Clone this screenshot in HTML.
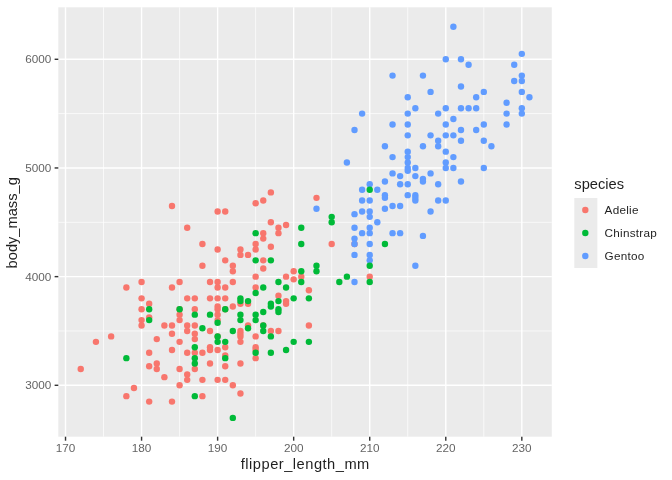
<!DOCTYPE html>
<html><head><meta charset="utf-8"><title>penguins</title>
<style>html,body{margin:0;padding:0;background:#fff}svg{display:block}text{font-family:"Liberation Sans",sans-serif;fill-opacity:.88}</style></head><body>
<svg width="672" height="480" viewBox="0 0 672 480">
<rect width="672" height="480" fill="#fff"/>
<rect x="58.3" y="7.3" width="493.50" height="429.40" fill="#EBEBEB"/>
<g stroke="#fff" stroke-width="0.71">
<line x1="103.55" x2="103.55" y1="7.3" y2="436.7"/>
<line x1="179.59" x2="179.59" y1="7.3" y2="436.7"/>
<line x1="255.64" x2="255.64" y1="7.3" y2="436.7"/>
<line x1="331.69" x2="331.69" y1="7.3" y2="436.7"/>
<line x1="407.75" x2="407.75" y1="7.3" y2="436.7"/>
<line x1="483.80" x2="483.80" y1="7.3" y2="436.7"/>
<line y1="330.97" y2="330.97" x1="58.3" x2="551.8"/>
<line y1="222.30" y2="222.30" x1="58.3" x2="551.8"/>
<line y1="113.62" y2="113.62" x1="58.3" x2="551.8"/>
</g>
<g stroke="#fff" stroke-width="1.42">
<line x1="65.52" x2="65.52" y1="7.3" y2="436.7"/>
<line x1="141.57" x2="141.57" y1="7.3" y2="436.7"/>
<line x1="217.62" x2="217.62" y1="7.3" y2="436.7"/>
<line x1="293.67" x2="293.67" y1="7.3" y2="436.7"/>
<line x1="369.72" x2="369.72" y1="7.3" y2="436.7"/>
<line x1="445.77" x2="445.77" y1="7.3" y2="436.7"/>
<line x1="521.82" x2="521.82" y1="7.3" y2="436.7"/>
<line y1="385.30" y2="385.30" x1="58.3" x2="551.8"/>
<line y1="276.63" y2="276.63" x1="58.3" x2="551.8"/>
<line y1="167.96" y2="167.96" x1="58.3" x2="551.8"/>
<line y1="59.29" y2="59.29" x1="58.3" x2="551.8"/>
</g>
<g fill="#F8766D">
<circle cx="80.73" cy="369.00" r="3.2"/>
<circle cx="149.18" cy="366.28" r="3.2"/>
<circle cx="156.78" cy="363.57" r="3.2"/>
<circle cx="156.78" cy="369.00" r="3.2"/>
<circle cx="164.38" cy="377.15" r="3.2"/>
<circle cx="133.97" cy="388.02" r="3.2"/>
<circle cx="126.36" cy="396.17" r="3.2"/>
<circle cx="149.18" cy="401.60" r="3.2"/>
<circle cx="171.99" cy="401.60" r="3.2"/>
<circle cx="179.59" cy="369.00" r="3.2"/>
<circle cx="179.59" cy="385.30" r="3.2"/>
<circle cx="187.20" cy="374.43" r="3.2"/>
<circle cx="187.20" cy="379.87" r="3.2"/>
<circle cx="194.81" cy="369.00" r="3.2"/>
<circle cx="202.41" cy="379.87" r="3.2"/>
<circle cx="202.41" cy="396.17" r="3.2"/>
<circle cx="210.01" cy="363.57" r="3.2"/>
<circle cx="217.62" cy="379.87" r="3.2"/>
<circle cx="225.23" cy="366.28" r="3.2"/>
<circle cx="225.23" cy="379.87" r="3.2"/>
<circle cx="232.83" cy="385.30" r="3.2"/>
<circle cx="240.44" cy="363.57" r="3.2"/>
<circle cx="240.44" cy="393.45" r="3.2"/>
<circle cx="255.64" cy="358.13" r="3.2"/>
<circle cx="141.57" cy="282.06" r="3.2"/>
<circle cx="126.36" cy="287.50" r="3.2"/>
<circle cx="141.57" cy="298.36" r="3.2"/>
<circle cx="149.18" cy="303.80" r="3.2"/>
<circle cx="141.57" cy="309.23" r="3.2"/>
<circle cx="149.18" cy="317.38" r="3.2"/>
<circle cx="141.57" cy="320.10" r="3.2"/>
<circle cx="141.57" cy="325.53" r="3.2"/>
<circle cx="164.38" cy="325.53" r="3.2"/>
<circle cx="111.15" cy="336.40" r="3.2"/>
<circle cx="95.94" cy="341.83" r="3.2"/>
<circle cx="156.78" cy="339.12" r="3.2"/>
<circle cx="149.18" cy="352.70" r="3.2"/>
<circle cx="171.99" cy="287.50" r="3.2"/>
<circle cx="171.99" cy="325.53" r="3.2"/>
<circle cx="171.99" cy="333.68" r="3.2"/>
<circle cx="179.59" cy="282.06" r="3.2"/>
<circle cx="179.59" cy="314.66" r="3.2"/>
<circle cx="179.59" cy="320.10" r="3.2"/>
<circle cx="187.20" cy="298.36" r="3.2"/>
<circle cx="187.20" cy="325.53" r="3.2"/>
<circle cx="187.20" cy="330.97" r="3.2"/>
<circle cx="194.81" cy="298.36" r="3.2"/>
<circle cx="194.81" cy="309.23" r="3.2"/>
<circle cx="194.81" cy="325.53" r="3.2"/>
<circle cx="194.81" cy="333.68" r="3.2"/>
<circle cx="210.01" cy="282.06" r="3.2"/>
<circle cx="210.01" cy="298.36" r="3.2"/>
<circle cx="210.01" cy="330.97" r="3.2"/>
<circle cx="217.62" cy="282.06" r="3.2"/>
<circle cx="217.62" cy="287.50" r="3.2"/>
<circle cx="217.62" cy="298.36" r="3.2"/>
<circle cx="217.62" cy="306.51" r="3.2"/>
<circle cx="217.62" cy="309.23" r="3.2"/>
<circle cx="217.62" cy="314.66" r="3.2"/>
<circle cx="217.62" cy="320.10" r="3.2"/>
<circle cx="225.23" cy="287.50" r="3.2"/>
<circle cx="225.23" cy="298.36" r="3.2"/>
<circle cx="232.83" cy="282.06" r="3.2"/>
<circle cx="232.83" cy="306.51" r="3.2"/>
<circle cx="240.44" cy="303.80" r="3.2"/>
<circle cx="240.44" cy="330.97" r="3.2"/>
<circle cx="248.04" cy="303.80" r="3.2"/>
<circle cx="248.04" cy="325.53" r="3.2"/>
<circle cx="171.99" cy="349.98" r="3.2"/>
<circle cx="179.59" cy="341.83" r="3.2"/>
<circle cx="187.20" cy="352.70" r="3.2"/>
<circle cx="194.81" cy="339.12" r="3.2"/>
<circle cx="194.81" cy="352.70" r="3.2"/>
<circle cx="202.41" cy="352.70" r="3.2"/>
<circle cx="210.01" cy="347.27" r="3.2"/>
<circle cx="210.01" cy="349.98" r="3.2"/>
<circle cx="217.62" cy="349.98" r="3.2"/>
<circle cx="225.23" cy="347.27" r="3.2"/>
<circle cx="225.23" cy="355.42" r="3.2"/>
<circle cx="240.44" cy="333.68" r="3.2"/>
<circle cx="240.44" cy="336.40" r="3.2"/>
<circle cx="240.44" cy="341.83" r="3.2"/>
<circle cx="255.64" cy="336.40" r="3.2"/>
<circle cx="255.64" cy="347.27" r="3.2"/>
<circle cx="255.64" cy="349.98" r="3.2"/>
<circle cx="263.25" cy="325.53" r="3.2"/>
<circle cx="270.86" cy="330.97" r="3.2"/>
<circle cx="278.46" cy="330.97" r="3.2"/>
<circle cx="308.88" cy="325.53" r="3.2"/>
<circle cx="255.64" cy="287.50" r="3.2"/>
<circle cx="278.46" cy="295.65" r="3.2"/>
<circle cx="286.06" cy="301.08" r="3.2"/>
<circle cx="286.06" cy="303.80" r="3.2"/>
<circle cx="308.88" cy="290.21" r="3.2"/>
<circle cx="171.99" cy="205.99" r="3.2"/>
<circle cx="187.20" cy="227.73" r="3.2"/>
<circle cx="202.41" cy="244.03" r="3.2"/>
<circle cx="202.41" cy="265.76" r="3.2"/>
<circle cx="217.62" cy="211.43" r="3.2"/>
<circle cx="217.62" cy="249.46" r="3.2"/>
<circle cx="225.23" cy="211.43" r="3.2"/>
<circle cx="225.23" cy="260.33" r="3.2"/>
<circle cx="232.83" cy="265.76" r="3.2"/>
<circle cx="232.83" cy="271.20" r="3.2"/>
<circle cx="240.44" cy="249.46" r="3.2"/>
<circle cx="240.44" cy="254.90" r="3.2"/>
<circle cx="248.04" cy="254.90" r="3.2"/>
<circle cx="255.64" cy="244.03" r="3.2"/>
<circle cx="255.64" cy="249.46" r="3.2"/>
<circle cx="255.64" cy="276.63" r="3.2"/>
<circle cx="263.25" cy="233.16" r="3.2"/>
<circle cx="263.25" cy="238.60" r="3.2"/>
<circle cx="263.25" cy="260.33" r="3.2"/>
<circle cx="263.25" cy="268.48" r="3.2"/>
<circle cx="270.86" cy="222.30" r="3.2"/>
<circle cx="270.86" cy="246.75" r="3.2"/>
<circle cx="278.46" cy="227.73" r="3.2"/>
<circle cx="278.46" cy="233.16" r="3.2"/>
<circle cx="286.06" cy="225.01" r="3.2"/>
<circle cx="286.06" cy="276.63" r="3.2"/>
<circle cx="293.67" cy="271.20" r="3.2"/>
<circle cx="293.67" cy="279.35" r="3.2"/>
<circle cx="301.28" cy="276.63" r="3.2"/>
<circle cx="331.69" cy="244.03" r="3.2"/>
<circle cx="354.51" cy="244.03" r="3.2"/>
<circle cx="369.72" cy="276.63" r="3.2"/>
<circle cx="255.64" cy="203.28" r="3.2"/>
<circle cx="263.25" cy="200.56" r="3.2"/>
<circle cx="270.86" cy="192.41" r="3.2"/>
<circle cx="316.49" cy="197.84" r="3.2"/>
<circle cx="225.23" cy="309.23" r="3.2"/>
<circle cx="179.59" cy="309.23" r="3.2"/>
<circle cx="217.62" cy="336.40" r="3.2"/>
</g>
<g fill="#619CFF">
<circle cx="354.51" cy="227.73" r="3.2"/>
<circle cx="354.51" cy="238.60" r="3.2"/>
<circle cx="354.51" cy="244.03" r="3.2"/>
<circle cx="354.51" cy="254.90" r="3.2"/>
<circle cx="354.51" cy="282.06" r="3.2"/>
<circle cx="362.12" cy="233.16" r="3.2"/>
<circle cx="369.72" cy="227.73" r="3.2"/>
<circle cx="369.72" cy="233.16" r="3.2"/>
<circle cx="369.72" cy="244.03" r="3.2"/>
<circle cx="369.72" cy="254.90" r="3.2"/>
<circle cx="369.72" cy="260.33" r="3.2"/>
<circle cx="392.54" cy="233.16" r="3.2"/>
<circle cx="400.14" cy="233.16" r="3.2"/>
<circle cx="415.35" cy="265.76" r="3.2"/>
<circle cx="422.95" cy="235.88" r="3.2"/>
<circle cx="430.56" cy="211.43" r="3.2"/>
<circle cx="316.49" cy="208.71" r="3.2"/>
<circle cx="346.90" cy="162.53" r="3.2"/>
<circle cx="354.51" cy="214.14" r="3.2"/>
<circle cx="362.12" cy="189.69" r="3.2"/>
<circle cx="362.12" cy="200.56" r="3.2"/>
<circle cx="362.12" cy="211.43" r="3.2"/>
<circle cx="369.72" cy="184.26" r="3.2"/>
<circle cx="369.72" cy="200.56" r="3.2"/>
<circle cx="369.72" cy="211.43" r="3.2"/>
<circle cx="369.72" cy="216.86" r="3.2"/>
<circle cx="377.32" cy="189.69" r="3.2"/>
<circle cx="377.32" cy="222.30" r="3.2"/>
<circle cx="384.93" cy="181.54" r="3.2"/>
<circle cx="384.93" cy="195.13" r="3.2"/>
<circle cx="384.93" cy="197.84" r="3.2"/>
<circle cx="384.93" cy="208.71" r="3.2"/>
<circle cx="392.54" cy="173.39" r="3.2"/>
<circle cx="392.54" cy="205.99" r="3.2"/>
<circle cx="400.14" cy="176.11" r="3.2"/>
<circle cx="400.14" cy="184.26" r="3.2"/>
<circle cx="400.14" cy="205.99" r="3.2"/>
<circle cx="407.75" cy="184.26" r="3.2"/>
<circle cx="407.75" cy="195.13" r="3.2"/>
<circle cx="415.35" cy="176.11" r="3.2"/>
<circle cx="415.35" cy="195.13" r="3.2"/>
<circle cx="415.35" cy="200.56" r="3.2"/>
<circle cx="422.95" cy="178.83" r="3.2"/>
<circle cx="422.95" cy="181.54" r="3.2"/>
<circle cx="430.56" cy="173.39" r="3.2"/>
<circle cx="438.17" cy="184.26" r="3.2"/>
<circle cx="438.17" cy="200.56" r="3.2"/>
<circle cx="445.77" cy="200.56" r="3.2"/>
<circle cx="460.98" cy="181.54" r="3.2"/>
<circle cx="483.80" cy="167.96" r="3.2"/>
<circle cx="354.51" cy="129.93" r="3.2"/>
<circle cx="362.12" cy="113.62" r="3.2"/>
<circle cx="384.93" cy="146.23" r="3.2"/>
<circle cx="392.54" cy="124.49" r="3.2"/>
<circle cx="392.54" cy="157.09" r="3.2"/>
<circle cx="407.75" cy="113.62" r="3.2"/>
<circle cx="407.75" cy="124.49" r="3.2"/>
<circle cx="407.75" cy="135.36" r="3.2"/>
<circle cx="407.75" cy="151.66" r="3.2"/>
<circle cx="407.75" cy="157.09" r="3.2"/>
<circle cx="407.75" cy="162.53" r="3.2"/>
<circle cx="407.75" cy="167.96" r="3.2"/>
<circle cx="407.75" cy="170.68" r="3.2"/>
<circle cx="415.35" cy="167.96" r="3.2"/>
<circle cx="422.95" cy="146.23" r="3.2"/>
<circle cx="430.56" cy="135.36" r="3.2"/>
<circle cx="438.17" cy="113.62" r="3.2"/>
<circle cx="438.17" cy="140.79" r="3.2"/>
<circle cx="438.17" cy="146.23" r="3.2"/>
<circle cx="445.77" cy="124.49" r="3.2"/>
<circle cx="445.77" cy="135.36" r="3.2"/>
<circle cx="445.77" cy="151.66" r="3.2"/>
<circle cx="445.77" cy="162.53" r="3.2"/>
<circle cx="445.77" cy="167.96" r="3.2"/>
<circle cx="453.38" cy="119.06" r="3.2"/>
<circle cx="453.38" cy="135.36" r="3.2"/>
<circle cx="453.38" cy="157.09" r="3.2"/>
<circle cx="453.38" cy="167.96" r="3.2"/>
<circle cx="460.98" cy="129.93" r="3.2"/>
<circle cx="460.98" cy="140.79" r="3.2"/>
<circle cx="476.19" cy="129.93" r="3.2"/>
<circle cx="483.80" cy="124.49" r="3.2"/>
<circle cx="483.80" cy="140.79" r="3.2"/>
<circle cx="491.40" cy="146.23" r="3.2"/>
<circle cx="506.61" cy="113.62" r="3.2"/>
<circle cx="506.61" cy="124.49" r="3.2"/>
<circle cx="521.82" cy="113.62" r="3.2"/>
<circle cx="392.54" cy="75.59" r="3.2"/>
<circle cx="407.75" cy="97.32" r="3.2"/>
<circle cx="415.35" cy="108.19" r="3.2"/>
<circle cx="422.95" cy="75.59" r="3.2"/>
<circle cx="430.56" cy="91.89" r="3.2"/>
<circle cx="453.38" cy="26.69" r="3.2"/>
<circle cx="445.77" cy="59.29" r="3.2"/>
<circle cx="460.98" cy="59.29" r="3.2"/>
<circle cx="460.98" cy="86.46" r="3.2"/>
<circle cx="468.58" cy="64.72" r="3.2"/>
<circle cx="521.82" cy="53.86" r="3.2"/>
<circle cx="521.82" cy="75.59" r="3.2"/>
<circle cx="521.82" cy="81.02" r="3.2"/>
<circle cx="514.22" cy="64.72" r="3.2"/>
<circle cx="514.22" cy="81.02" r="3.2"/>
<circle cx="445.77" cy="108.19" r="3.2"/>
<circle cx="460.98" cy="108.19" r="3.2"/>
<circle cx="468.58" cy="108.19" r="3.2"/>
<circle cx="476.19" cy="97.32" r="3.2"/>
<circle cx="476.19" cy="108.19" r="3.2"/>
<circle cx="483.80" cy="91.89" r="3.2"/>
<circle cx="506.61" cy="102.76" r="3.2"/>
<circle cx="521.82" cy="91.89" r="3.2"/>
<circle cx="521.82" cy="108.19" r="3.2"/>
<circle cx="529.43" cy="97.32" r="3.2"/>
<circle cx="415.35" cy="197.84" r="3.2"/>
</g>
<g fill="#00BA38">
<circle cx="126.36" cy="358.13" r="3.2"/>
<circle cx="194.81" cy="358.13" r="3.2"/>
<circle cx="194.81" cy="363.57" r="3.2"/>
<circle cx="194.81" cy="396.17" r="3.2"/>
<circle cx="225.23" cy="358.13" r="3.2"/>
<circle cx="232.83" cy="417.90" r="3.2"/>
<circle cx="149.18" cy="309.23" r="3.2"/>
<circle cx="149.18" cy="320.10" r="3.2"/>
<circle cx="179.59" cy="309.23" r="3.2"/>
<circle cx="194.81" cy="314.66" r="3.2"/>
<circle cx="202.41" cy="328.25" r="3.2"/>
<circle cx="210.01" cy="314.66" r="3.2"/>
<circle cx="217.62" cy="322.81" r="3.2"/>
<circle cx="217.62" cy="336.40" r="3.2"/>
<circle cx="225.23" cy="309.23" r="3.2"/>
<circle cx="232.83" cy="330.97" r="3.2"/>
<circle cx="240.44" cy="298.36" r="3.2"/>
<circle cx="240.44" cy="301.08" r="3.2"/>
<circle cx="240.44" cy="314.66" r="3.2"/>
<circle cx="240.44" cy="320.10" r="3.2"/>
<circle cx="248.04" cy="301.08" r="3.2"/>
<circle cx="248.04" cy="328.25" r="3.2"/>
<circle cx="194.81" cy="347.27" r="3.2"/>
<circle cx="217.62" cy="341.83" r="3.2"/>
<circle cx="225.23" cy="341.83" r="3.2"/>
<circle cx="255.64" cy="352.70" r="3.2"/>
<circle cx="263.25" cy="325.53" r="3.2"/>
<circle cx="263.25" cy="330.97" r="3.2"/>
<circle cx="270.86" cy="336.40" r="3.2"/>
<circle cx="270.86" cy="352.70" r="3.2"/>
<circle cx="286.06" cy="349.98" r="3.2"/>
<circle cx="293.67" cy="341.83" r="3.2"/>
<circle cx="308.88" cy="341.83" r="3.2"/>
<circle cx="255.64" cy="292.93" r="3.2"/>
<circle cx="255.64" cy="314.66" r="3.2"/>
<circle cx="255.64" cy="320.10" r="3.2"/>
<circle cx="263.25" cy="287.50" r="3.2"/>
<circle cx="263.25" cy="311.95" r="3.2"/>
<circle cx="270.86" cy="303.80" r="3.2"/>
<circle cx="270.86" cy="306.51" r="3.2"/>
<circle cx="278.46" cy="282.06" r="3.2"/>
<circle cx="278.46" cy="301.08" r="3.2"/>
<circle cx="278.46" cy="309.23" r="3.2"/>
<circle cx="278.46" cy="311.95" r="3.2"/>
<circle cx="286.06" cy="287.50" r="3.2"/>
<circle cx="293.67" cy="298.36" r="3.2"/>
<circle cx="301.28" cy="282.06" r="3.2"/>
<circle cx="308.88" cy="298.36" r="3.2"/>
<circle cx="255.64" cy="233.16" r="3.2"/>
<circle cx="255.64" cy="260.33" r="3.2"/>
<circle cx="270.86" cy="260.33" r="3.2"/>
<circle cx="301.28" cy="227.73" r="3.2"/>
<circle cx="301.28" cy="244.03" r="3.2"/>
<circle cx="301.28" cy="271.20" r="3.2"/>
<circle cx="316.49" cy="265.76" r="3.2"/>
<circle cx="316.49" cy="271.20" r="3.2"/>
<circle cx="339.30" cy="282.06" r="3.2"/>
<circle cx="346.90" cy="276.63" r="3.2"/>
<circle cx="369.72" cy="265.76" r="3.2"/>
<circle cx="369.72" cy="282.06" r="3.2"/>
<circle cx="384.93" cy="244.03" r="3.2"/>
<circle cx="331.69" cy="216.86" r="3.2"/>
<circle cx="331.69" cy="222.30" r="3.2"/>
<circle cx="369.72" cy="189.69" r="3.2"/>
</g>
<g stroke="#333" stroke-width="1.42">
<line x1="65.52" x2="65.52" y1="436.7" y2="440.70"/>
<line x1="141.57" x2="141.57" y1="436.7" y2="440.70"/>
<line x1="217.62" x2="217.62" y1="436.7" y2="440.70"/>
<line x1="293.67" x2="293.67" y1="436.7" y2="440.70"/>
<line x1="369.72" x2="369.72" y1="436.7" y2="440.70"/>
<line x1="445.77" x2="445.77" y1="436.7" y2="440.70"/>
<line x1="521.82" x2="521.82" y1="436.7" y2="440.70"/>
<line y1="385.30" y2="385.30" x1="54.63" x2="58.3"/>
<line y1="276.63" y2="276.63" x1="54.63" x2="58.3"/>
<line y1="167.96" y2="167.96" x1="54.63" x2="58.3"/>
<line y1="59.29" y2="59.29" x1="54.63" x2="58.3"/>
</g>
<g fill="#4D4D4D" font-size="11.73">
<text x="65.52" y="452.2" text-anchor="middle">170</text>
<text x="141.57" y="452.2" text-anchor="middle">180</text>
<text x="217.62" y="452.2" text-anchor="middle">190</text>
<text x="293.67" y="452.2" text-anchor="middle">200</text>
<text x="369.72" y="452.2" text-anchor="middle">210</text>
<text x="445.77" y="452.2" text-anchor="middle">220</text>
<text x="521.82" y="452.2" text-anchor="middle">230</text>
<text x="51.3" y="389.40" text-anchor="end">3000</text>
<text x="51.3" y="280.73" text-anchor="end">4000</text>
<text x="51.3" y="172.06" text-anchor="end">5000</text>
<text x="51.3" y="63.39" text-anchor="end">6000</text>
</g>
<text x="305.30" y="468.5" text-anchor="middle" font-size="14.67" letter-spacing="0.5" fill="#000">flipper_length_mm</text>
<text transform="translate(16.6,222.80) rotate(-90)" text-anchor="middle" font-size="14.67" fill="#000">body_mass_g</text>
<text x="574.3" y="188.8" font-size="14.67" fill="#000">species</text>
<rect x="574.3" y="198" width="23.04" height="70" fill="#EBEBEB"/>
<circle cx="585.3" cy="210.00" r="3.2" fill="#F8766D"/>
<text x="604.6" y="213.70" font-size="11.73" letter-spacing="0.25" fill="#000">Adelie</text>
<circle cx="585.3" cy="233.00" r="3.2" fill="#00BA38"/>
<text x="604.6" y="236.70" font-size="11.73" letter-spacing="0.25" fill="#000">Chinstrap</text>
<circle cx="585.3" cy="256.00" r="3.2" fill="#619CFF"/>
<text x="604.6" y="259.70" font-size="11.73" letter-spacing="0.25" fill="#000">Gentoo</text>
</svg></body></html>
